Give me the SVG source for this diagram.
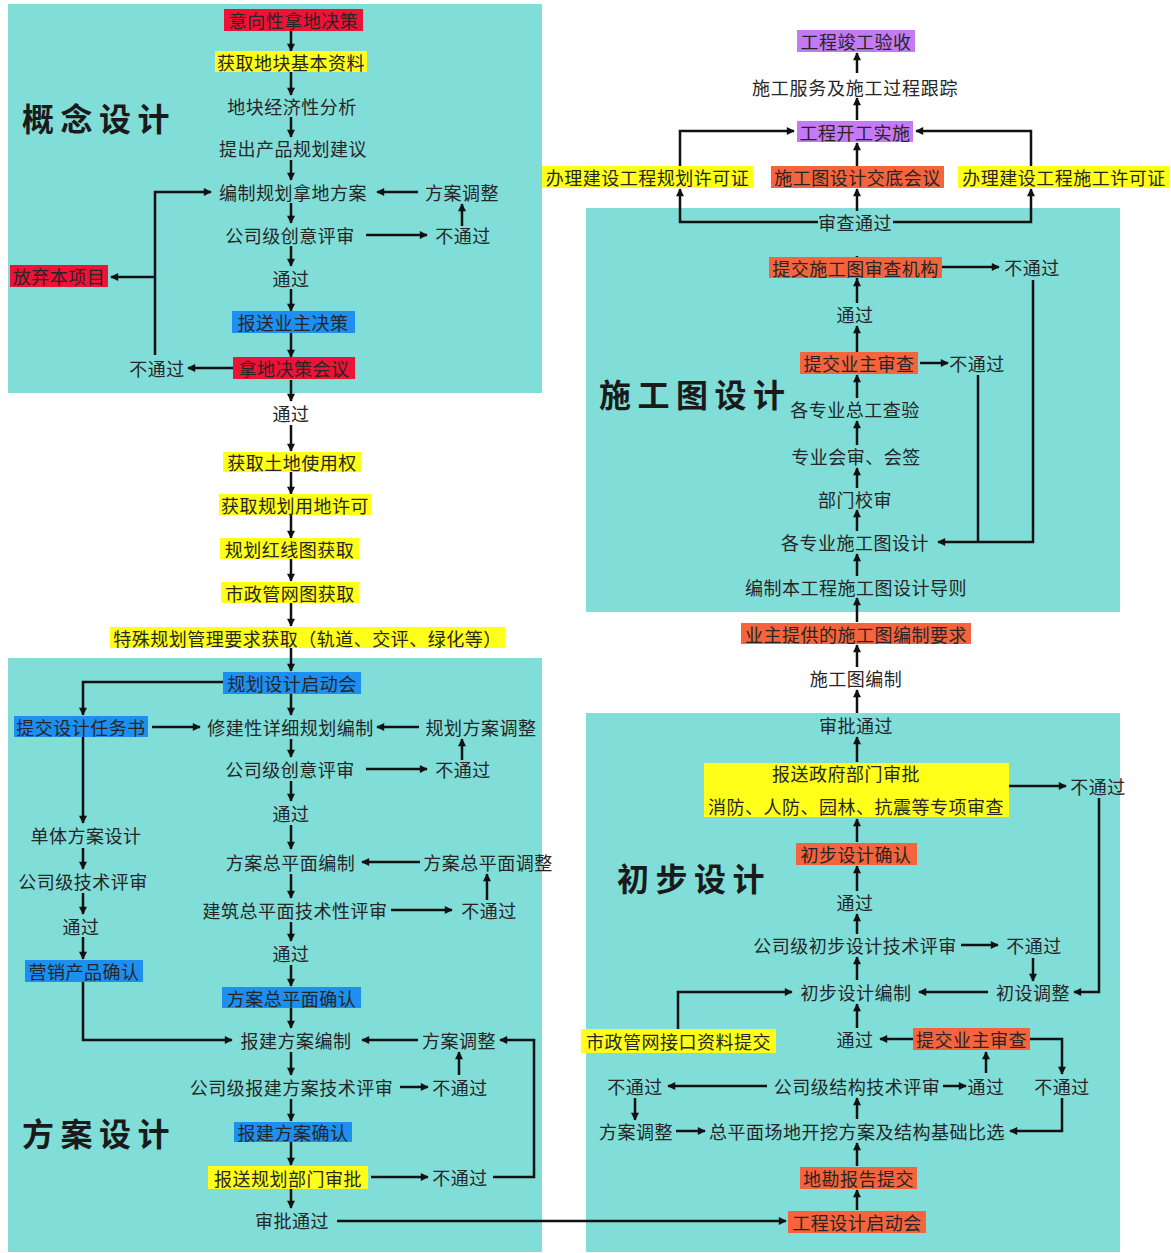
<svg xmlns="http://www.w3.org/2000/svg" width="1171" height="1253" viewBox="0 0 1171 1253">
<defs>
<style>
.p{fill:#80DDD8}
.t{font-family:"Noto Sans CJK SC","Noto Sans",sans-serif;font-size:18px;fill:#262626;text-anchor:middle;dominant-baseline:central;letter-spacing:0.5px}
.h{font-family:"Noto Sans CJK SC",sans-serif;font-size:32px;font-weight:bold;fill:#1a1a1a;dominant-baseline:central;letter-spacing:6.5px}
.red{fill:#EE1236}.yel{fill:#FFFF1A}.blu{fill:#1C8FF0}.ora{fill:#F5643C}.pur{fill:#C47AF5}
.c{stroke:#111;stroke-width:2.5;fill:none;marker-end:url(#ah)}
.l{stroke:#111;stroke-width:2.5;fill:none}
</style>
<marker id="ah" viewBox="0 0 10 10" refX="9" refY="5" markerWidth="9" markerHeight="8" markerUnits="userSpaceOnUse" orient="auto"><path d="M0,0 L10,5 L0,10 z" fill="#111"/></marker>
</defs>
<rect width="1171" height="1253" fill="#fff"/>
<g id="panels">
<rect class="p" x="8" y="4" width="534" height="389"/>
<rect class="p" x="8" y="658" width="534" height="594"/>
<rect class="p" x="586" y="208" width="534" height="404"/>
<rect class="p" x="586" y="713" width="534" height="539"/>
</g>
<g id="headings">
<text class="h" x="22" y="117">概念设计</text>
<text class="h" x="22" y="1132">方案设计</text>
<text class="h" x="599" y="393">施工图设计</text>
<text class="h" x="617" y="877">初步设计</text>
</g>
<g id="connectors">
<path class="c" d="M291,31V51"/>
<path class="c" d="M291,72V95"/>
<path class="c" d="M291,117V137"/>
<path class="c" d="M291,160V180"/>
<path class="c" d="M291,203V223"/>
<path class="c" d="M291,246V266"/>
<path class="c" d="M291,289V311"/>
<path class="c" d="M291,333V357"/>
<path class="c" d="M418,192H377"/>
<path class="c" d="M366,235H427"/>
<path class="c" d="M462,226V204"/>
<path class="c" d="M233,368H188"/>
<path class="c" d="M155,355V192H211"/>
<path class="c" d="M155,277H111"/>
<path class="c" d="M291,380V401"/>
<path class="c" d="M291,425V451"/>
<path class="c" d="M291,472V494"/>
<path class="c" d="M291,515V538"/>
<path class="c" d="M291,559V581"/>
<path class="c" d="M291,603V626"/>
<path class="c" d="M291,648V671"/>
<path class="c" d="M223,682H83V715"/>
<path class="c" d="M152,727H200"/>
<path class="c" d="M291,694V715"/>
<path class="c" d="M419,727H377"/>
<path class="c" d="M291,739V757"/>
<path class="c" d="M366,769H427"/>
<path class="c" d="M462,760V739"/>
<path class="c" d="M291,781V801"/>
<path class="c" d="M291,825V849"/>
<path class="c" d="M420,862H362"/>
<path class="c" d="M291,874V898"/>
<path class="c" d="M391,910H452"/>
<path class="c" d="M487,900V874"/>
<path class="c" d="M291,922V941"/>
<path class="c" d="M291,965V986"/>
<path class="c" d="M291,1008V1028"/>
<path class="c" d="M418,1040H362"/>
<path class="c" d="M83,982V1040H232"/>
<path class="c" d="M291,1052V1075"/>
<path class="c" d="M400,1087H428"/>
<path class="c" d="M459,1075V1052"/>
<path class="c" d="M291,1099V1121"/>
<path class="c" d="M291,1142V1165"/>
<path class="c" d="M371,1177H428"/>
<path class="c" d="M493,1177H534V1040H500"/>
<path class="c" d="M291,1189V1208"/>
<path class="c" d="M337,1221H786"/>
<path class="c" d="M83,737V823"/>
<path class="c" d="M83,848V869"/>
<path class="c" d="M83,893V914"/>
<path class="c" d="M83,937V959"/>
<path class="c" d="M857,73V53"/>
<path class="c" d="M857,120V98"/>
<path class="c" d="M680,167V131H794"/>
<path class="c" d="M1031,167V131H916"/>
<path class="c" d="M857,167V143"/>
<path class="c" d="M818,222H680V189"/>
<path class="c" d="M893,222H1031V189"/>
<path class="c" d="M857,211V189"/>
<path class="c" d="M857,256V279"/>
<path class="c" d="M942,267H999"/>
<path class="c" d="M1033,280V542H938"/>
<path class="c" d="M857,303V279"/>
<path class="c" d="M857,352V326"/>
<path class="c" d="M920,363H948"/>
<path class="l" d="M978,375V542"/>
<path class="c" d="M857,398V375"/>
<path class="c" d="M857,445V421"/>
<path class="c" d="M857,488V468"/>
<path class="c" d="M857,531V510"/>
<path class="c" d="M857,576V554"/>
<path class="c" d="M857,622V598"/>
<path class="c" d="M857,667V645"/>
<path class="c" d="M857,713V690"/>
<path class="c" d="M857,762V737"/>
<path class="c" d="M1009,786H1066"/>
<path class="c" d="M1099,798V992H1074"/>
<path class="c" d="M857,842V819"/>
<path class="c" d="M857,891V866"/>
<path class="c" d="M857,934V914"/>
<path class="c" d="M961,945H998"/>
<path class="c" d="M1033,958V981"/>
<path class="c" d="M988,992H919"/>
<path class="c" d="M857,980V957"/>
<path class="c" d="M678,1029V992H792"/>
<path class="c" d="M857,1028V1004"/>
<path class="c" d="M913,1039H880"/>
<path class="c" d="M1030,1039H1062V1074"/>
<path class="c" d="M767,1086H668"/>
<path class="c" d="M943,1086H966"/>
<path class="c" d="M986,1073V1052"/>
<path class="c" d="M635,1098V1120"/>
<path class="c" d="M676,1131H705"/>
<path class="c" d="M1062,1098V1131H1010"/>
<path class="c" d="M857,1119V1098"/>
<path class="c" d="M857,1166V1143"/>
<path class="c" d="M857,1210V1190"/>
</g>
<g id="n1"><rect class="red" x="224" y="9" width="139" height="22"/><text class="t" x="293.5" y="20">意向性拿地决策</text></g>
<g id="n2"><rect class="yel" x="215" y="51" width="152" height="21"/><text class="t" x="291" y="61.5">获取地块基本资料</text></g>
<g id="n3"><text class="t" x="292" y="106">地块经济性分析</text></g>
<g id="n4"><text class="t" x="293" y="148">提出产品规划建议</text></g>
<g id="n5"><text class="t" x="293" y="192">编制规划拿地方案</text></g>
<g id="n6"><text class="t" x="462" y="192">方案调整</text></g>
<g id="n7"><text class="t" x="290" y="235">公司级创意评审</text></g>
<g id="n8"><text class="t" x="463" y="235">不通过</text></g>
<g id="n9"><text class="t" x="291" y="278">通过</text></g>
<g id="n10"><rect class="blu" x="232" y="311" width="123" height="22"/><text class="t" x="293" y="322">报送业主决策</text></g>
<g id="n11"><rect class="red" x="233" y="357" width="122" height="22"/><text class="t" x="294" y="368">拿地决策会议</text></g>
<g id="n12"><text class="t" x="157" y="368">不通过</text></g>
<g id="n13"><rect class="red" x="10" y="265" width="98" height="22"/><text class="t" x="59" y="276">放弃本项目</text></g>
<g id="n14"><text class="t" x="291" y="413">通过</text></g>
<g id="n15"><rect class="yel" x="223" y="452" width="138" height="20"/><text class="t" x="292" y="462">获取土地使用权</text></g>
<g id="n16"><rect class="yel" x="219" y="494" width="152" height="21"/><text class="t" x="295" y="504.5">获取规划用地许可</text></g>
<g id="n17"><rect class="yel" x="220" y="538" width="139" height="21"/><text class="t" x="289.5" y="548.5">规划红线图获取</text></g>
<g id="n18"><rect class="yel" x="221" y="582" width="138" height="21"/><text class="t" x="290" y="592.5">市政管网图获取</text></g>
<g id="n19"><rect class="yel" x="110" y="627" width="395" height="21"/><text class="t" x="307.5" y="637.5">特殊规划管理要求获取（轨道、交评、绿化等）</text></g>
<g id="n20"><rect class="blu" x="223" y="672" width="138" height="22"/><text class="t" x="292" y="683">规划设计启动会</text></g>
<g id="n21"><rect class="blu" x="14" y="716" width="134" height="21"/><text class="t" x="81" y="726.5">提交设计任务书</text></g>
<g id="n22"><text class="t" x="290.5" y="727">修建性详细规划编制</text></g>
<g id="n23"><text class="t" x="481" y="727">规划方案调整</text></g>
<g id="n24"><text class="t" x="290" y="769">公司级创意评审</text></g>
<g id="n25"><text class="t" x="463" y="769">不通过</text></g>
<g id="n26"><text class="t" x="291" y="813">通过</text></g>
<g id="n27"><text class="t" x="290.5" y="862">方案总平面编制</text></g>
<g id="n28"><text class="t" x="488" y="862">方案总平面调整</text></g>
<g id="n29"><text class="t" x="295" y="910">建筑总平面技术性评审</text></g>
<g id="n30"><text class="t" x="489" y="910">不通过</text></g>
<g id="n31"><text class="t" x="291" y="953">通过</text></g>
<g id="n32"><rect class="blu" x="222" y="987" width="139" height="21"/><text class="t" x="291.5" y="997.5">方案总平面确认</text></g>
<g id="n33"><text class="t" x="296" y="1040">报建方案编制</text></g>
<g id="n34"><text class="t" x="459" y="1040">方案调整</text></g>
<g id="n35"><text class="t" x="291.5" y="1087">公司级报建方案技术评审</text></g>
<g id="n36"><text class="t" x="460" y="1087">不通过</text></g>
<g id="n37"><rect class="blu" x="234" y="1122" width="118" height="20"/><text class="t" x="293" y="1132">报建方案确认</text></g>
<g id="n38"><rect class="yel" x="208" y="1166" width="160" height="23"/><text class="t" x="288" y="1177.5">报送规划部门审批</text></g>
<g id="n39"><text class="t" x="460" y="1177">不通过</text></g>
<g id="n40"><text class="t" x="292" y="1220">审批通过</text></g>
<g id="n41"><text class="t" x="86" y="835">单体方案设计</text></g>
<g id="n42"><text class="t" x="83" y="881">公司级技术评审</text></g>
<g id="n43"><text class="t" x="81" y="926">通过</text></g>
<g id="n44"><rect class="blu" x="25" y="960" width="118" height="22"/><text class="t" x="84" y="971">营销产品确认</text></g>
<g id="m1"><rect class="pur" x="797" y="30" width="118" height="22"/><text class="t" x="856" y="41">工程竣工验收</text></g>
<g id="m2"><text class="t" x="855" y="87" textLength="206" lengthAdjust="spacing">施工服务及施工过程跟踪</text></g>
<g id="m3"><rect class="pur" x="797" y="121" width="116" height="21"/><text class="t" x="855" y="131.5">工程开工实施</text></g>
<g id="m4"><rect class="yel" x="542" y="166" width="211" height="22"/><text class="t" x="647.5" y="177">办理建设工程规划许可证</text></g>
<g id="m5"><rect class="ora" x="771" y="166" width="173" height="22"/><text class="t" x="857.5" y="177">施工图设计交底会议</text></g>
<g id="m6"><rect class="yel" x="958" y="166" width="212" height="22"/><text class="t" x="1064" y="177">办理建设工程施工许可证</text></g>
<g id="m7"><text class="t" x="855" y="222">审查通过</text></g>
<g id="m8"><rect class="ora" x="769" y="257" width="173" height="21"/><text class="t" x="855.5" y="267.5">提交施工图审查机构</text></g>
<g id="m9"><text class="t" x="1032" y="267">不通过</text></g>
<g id="m10"><text class="t" x="855" y="314">通过</text></g>
<g id="m11"><rect class="ora" x="800" y="352" width="118" height="22"/><text class="t" x="859" y="363">提交业主审查</text></g>
<g id="m12"><text class="t" x="977" y="363">不通过</text></g>
<g id="m13"><text class="t" x="855" y="409">各专业总工查验</text></g>
<g id="m14"><text class="t" x="856" y="456">专业会审、会签</text></g>
<g id="m15"><text class="t" x="855" y="499">部门校审</text></g>
<g id="m16"><text class="t" x="855" y="542">各专业施工图设计</text></g>
<g id="m17"><text class="t" x="856" y="587">编制本工程施工图设计导则</text></g>
<g id="m18"><rect class="ora" x="741" y="623" width="230" height="21"/><text class="t" x="856" y="633.5">业主提供的施工图编制要求</text></g>
<g id="m19"><text class="t" x="856" y="678">施工图编制</text></g>
<g id="m20"><text class="t" x="856" y="725">审批通过</text></g>
<g id="m21"><rect class="yel" x="704" y="763" width="305" height="54"/><text class="t" x="846" y="773">报送政府部门审批</text><text class="t" x="856" y="806">消防、人防、园林、抗震等专项审查</text></g>
<g id="m22"><text class="t" x="1098" y="786">不通过</text></g>
<g id="m23"><rect class="ora" x="796" y="843" width="121" height="22"/><text class="t" x="856" y="854">初步设计确认</text></g>
<g id="m24"><text class="t" x="855" y="902">通过</text></g>
<g id="m25"><text class="t" x="855" y="945">公司级初步设计技术评审</text></g>
<g id="m26"><text class="t" x="1034" y="945">不通过</text></g>
<g id="m27"><text class="t" x="1033" y="992">初设调整</text></g>
<g id="m28"><text class="t" x="856" y="992">初步设计编制</text></g>
<g id="m29"><rect class="yel" x="581" y="1029" width="195" height="24"/><text class="t" x="678.5" y="1041">市政管网接口资料提交</text></g>
<g id="m30"><text class="t" x="855" y="1039">通过</text></g>
<g id="m31"><rect class="ora" x="913" y="1028" width="117" height="22"/><text class="t" x="971.5" y="1039">提交业主审查</text></g>
<g id="m32"><text class="t" x="1062" y="1086">不通过</text></g>
<g id="m33"><text class="t" x="857" y="1086">公司级结构技术评审</text></g>
<g id="m34"><text class="t" x="986" y="1086">通过</text></g>
<g id="m35"><text class="t" x="635" y="1086">不通过</text></g>
<g id="m36"><text class="t" x="636" y="1131">方案调整</text></g>
<g id="m37"><text class="t" x="857" y="1131">总平面场地开挖方案及结构基础比选</text></g>
<g id="m38"><rect class="ora" x="800" y="1167" width="117" height="22"/><text class="t" x="858.5" y="1178">地勘报告提交</text></g>
<g id="m39"><rect class="ora" x="788" y="1211" width="138" height="22"/><text class="t" x="857" y="1222">工程设计启动会</text></g>
</svg>
